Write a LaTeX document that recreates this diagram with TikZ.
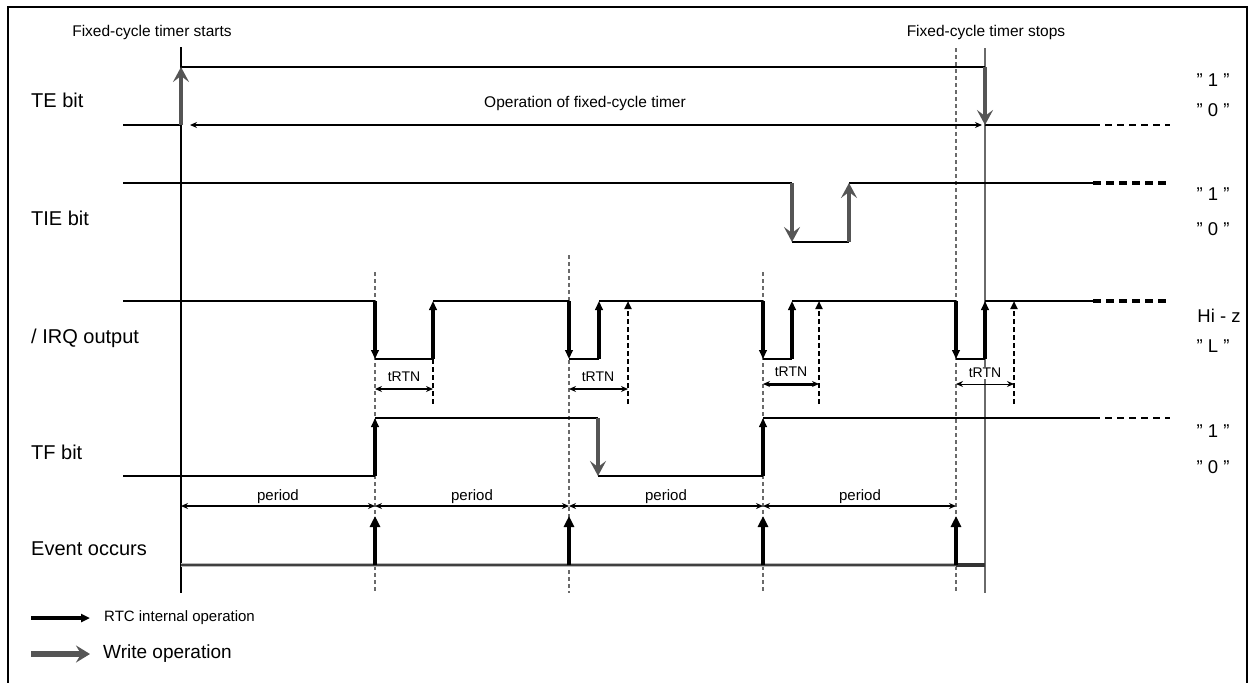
\documentclass[tikz,border=0pt]{standalone}
\usepackage{fontspec}
\setmainfont{Liberation Sans}
\usetikzlibrary{arrows.meta}
\definecolor{wgray}{HTML}{555555}
\definecolor{lgray}{HTML}{6A6A6A}
\begin{document}
\begin{tikzpicture}[x=1pt,y=-1pt,
  lab/.style={font=\fontsize{20}{22}\selectfont, inner sep=0pt, anchor=west},
  val/.style={font=\fontsize{18.5}{20}\selectfont, inner sep=0pt},
  small/.style={font=\fontsize{15.5}{17}\selectfont, inner sep=0pt},
  tr/.style={font=\fontsize{14}{15}\selectfont, inner sep=1pt},
  per/.style={font=\fontsize{15}{16}\selectfont, inner sep=0pt},
  sig/.style={line width=2.8pt},
  extthin/.style={line width=1.8pt, dash pattern=on 7pt off 5pt},
  extthick/.style={line width=3.4pt, dash pattern=on 8pt off 5pt},
  extmid/.style={line width=2.4pt, dash pattern=on 7pt off 5pt},
  wr/.style={draw=wgray, line width=4.2pt, -{Stealth[length=15pt,width=16pt,inset=6pt]}},
  rtc/.style={line width=3.4pt, -{Triangle[length=9pt,width=7.5pt]}},
  ev/.style={line width=4.8pt, -{Triangle[length=11pt,width=10pt]}},
  dup/.style={line width=2.8pt, dash pattern=on 5pt off 3pt, -{Triangle[length=8pt,width=7pt]}},
  dln/.style={line width=2.8pt, dash pattern=on 5pt off 3pt},
  vdash/.style={draw=lgray, line width=1.4pt, dash pattern=on 4pt off 3pt},
  dim/.style={line width=1.7pt, {Stealth[length=7pt,width=6pt]}-{Stealth[length=7pt,width=6pt]}},
]
\useasboundingbox (0,0) rectangle (1251,683);
% frame
\draw[line width=2.2pt] (8,690) -- (8,7) -- (1247,7) -- (1247,690);

% timer start / stop lines
\draw[line width=1.1pt] (181,47) -- (181,593);
\draw[draw=lgray, line width=1.6pt] (985,48) -- (985,593);
% period marker lines
\draw[vdash] (375,272) -- (375,593);
\draw[vdash] (569,255) -- (569,593);
\draw[vdash] (763,272) -- (763,593);
\draw[vdash] (956,48) -- (956,593);

% headings
\node[small] (start) at (152,32) {Fixed-cycle timer starts};
\node[small] (stop) at (986,32) {Fixed-cycle timer stops};

% left labels
\node[lab] (te) at (31,100) {TE bit};
\node[lab] (tie) at (31,218) {TIE bit};
\node[lab] (irq) at (31,338) {/ IRQ output};
\node[lab] (tf) at (31,452) {TF bit};
\node[lab] (ev) at (31,549) {Event occurs};

% right labels
\node[val] (te1) at (1213,80) {" 1 "};
\node[val] (te0) at (1213,110) {" 0 "};
\node[val] (tie1) at (1213,194) {" 1 "};
\node[val] (tie0) at (1213,229) {" 0 "};
\node[val] (hiz) at (1219,316) {Hi - z};
\node[val] (irqL) at (1213,346) {" L "};
\node[val] (tf1) at (1213,431) {" 1 "};
\node[val] (tf0) at (1213,467) {" 0 "};

% TE bit
\draw[sig] (123,125) -- (181,125);
\draw[sig] (181,67) -- (985,67);
\draw[sig] (985,125) -- (1093,125);
\draw[extthin] (1093,125) -- (1170,125);
\draw[wr] (181,125) -- (181,67);
\draw[wr] (985,67) -- (985,125);
\draw[dim] (190,125) -- (982,125);
\node[small] (op) at (585,103) {Operation of fixed-cycle timer};

% TIE bit
\draw[sig] (123,183) -- (792,183);
\draw[sig] (792,242) -- (849,242);
\draw[sig] (849,183) -- (1093,183);
\draw[extthick] (1093,183) -- (1170,183);
\draw[wr] (792,183) -- (792,242);
\draw[wr] (849,242) -- (849,183);

% /IRQ output
\draw[sig] (123,301) -- (375,301);
\draw[sig] (433,301) -- (569,301);
\draw[sig] (599,301) -- (763,301);
\draw[sig] (792,301) -- (956,301);
\draw[sig] (985,301) -- (1093,301);
\draw[extthick] (1093,301) -- (1170,301);
\draw[sig] (375,359) -- (433,359);
\draw[sig] (569,359) -- (599,359);
\draw[sig] (763,359) -- (792,359);
\draw[sig] (956,359) -- (985,359);
\foreach \x in {375,569,763,956} \draw[rtc] (\x,301) -- (\x,359);
\foreach \x in {433,599,792,985} \draw[rtc] (\x,359) -- (\x,301);
\draw[dln] (433,359) -- (433,404);
\draw[dup] (628,404) -- (628,301);
\draw[dup] (819,404) -- (819,301);
\draw[dup] (1014,404) -- (1014,301);
\draw[dim] (375,389) -- (433,389);
\draw[dim] (569,389) -- (628,389);
\draw[dim, line width=3pt] (763,384) -- (819,384);
\draw[dim, line width=1pt] (956,384) -- (1014,384);
\node[tr] (t1) at (404,377) {tRTN};
\node[tr] (t2) at (598,377) {tRTN};
\node[tr] (t3) at (791,372) {tRTN};
\node[tr, fill=white] (t4) at (985,373) {tRTN};

% TF bit
\draw[sig] (123,476) -- (375,476);
\draw[sig] (375,418) -- (598,418);
\draw[sig] (598,476) -- (763,476);
\draw[sig] (763,418) -- (1093,418);
\draw[extmid] (1093,418) -- (1170,418);
\draw[rtc] (375,476) -- (375,418);
\draw[wr] (598,418) -- (598,476);
\draw[rtc] (763,476) -- (763,418);

% periods
\draw[dim] (181,506) -- (375,506);
\draw[dim] (375,506) -- (569,506);
\draw[dim] (569,506) -- (763,506);
\draw[dim] (763,506) -- (956,506);
\node[per] (p1) at (278,497) {period};
\node[per] (p2) at (472,497) {period};
\node[per] (p3) at (666,497) {period};
\node[per] (p4) at (860,497) {period};

% Event occurs
\draw[line width=4.4pt, gray!55] (181,565) -- (985,565);
\draw[line width=1.8pt, black!75] (181,565) -- (985,565);
\draw[line width=4.4pt, black!80] (956,565) -- (985,565);
\foreach \x in {375,569,763,956} \draw[ev] (\x,565) -- (\x,516);

% legend
\draw[line width=4.4pt, -{Triangle[length=9pt,width=8pt]}] (31,618) -- (90,618);
\node[per, anchor=west] (l1) at (104,618) {RTC internal operation};
\draw[draw=wgray, line width=5.2pt, -{Stealth[length=14pt,width=17pt,inset=5pt]}] (31,654) -- (90,654);
\node[lab, font=\fontsize{19}{21}\selectfont] (l2) at (103,654) {Write operation};
\end{tikzpicture}
\end{document}
